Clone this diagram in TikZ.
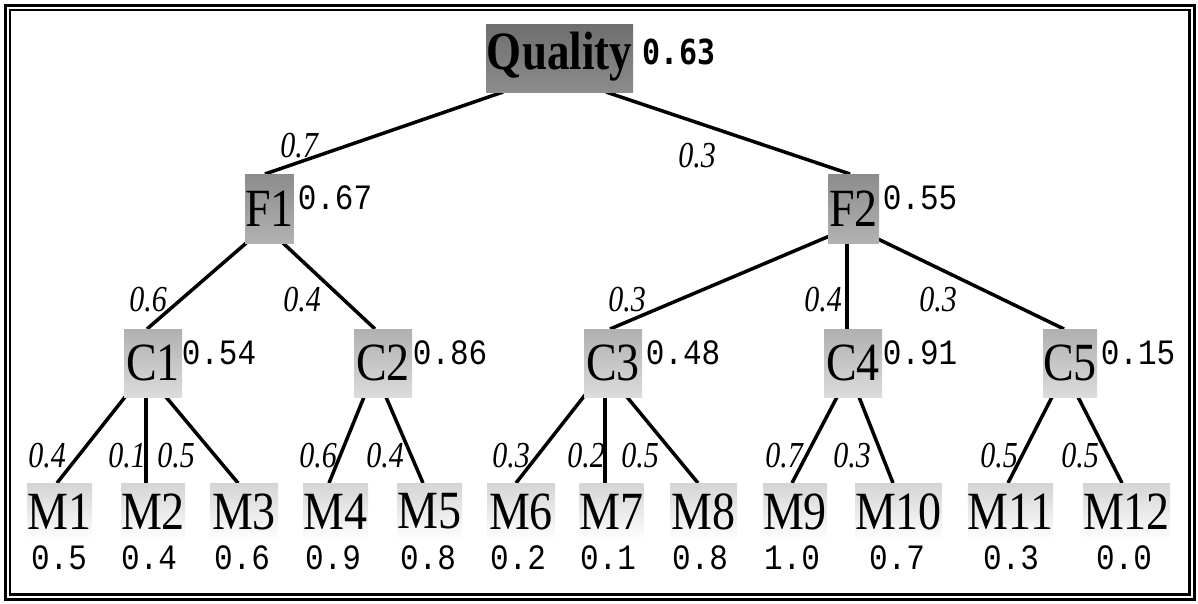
\documentclass[tikz,border=0pt]{standalone}
\usepackage{fontspec}
\usepackage{graphicx}
\setmainfont{Liberation Serif}
\newfontfamily\valfont{Liberation Mono}
\newfontfamily\qvalfont{DejaVu Sans Mono}
\usetikzlibrary{backgrounds}
\definecolor{qtop}{HTML}{6E6E6E}
\definecolor{qbot}{HTML}{8C8C8C}
\definecolor{ftop}{HTML}{8C8C8C}
\definecolor{fbot}{HTML}{B2B2B2}
\definecolor{ctop}{HTML}{B0B0B0}
\definecolor{cbot}{HTML}{DCDCDC}
\definecolor{mtop}{HTML}{D4D4D4}
\definecolor{mbot}{HTML}{FFFFFF}
\newcommand\lab[1]{\scalebox{1}[1.17]{\fontsize{46}{50}\selectfont #1}}
\newcommand\qlab[1]{\scalebox{1}[1.2]{\fontsize{45}{50}\selectfont\bfseries #1}}
\newcommand\wlab[1]{\scalebox{1}[1.22]{\fontsize{30}{32}\selectfont\itshape #1}}
\newcommand\vlab[1]{\scalebox{1}[1.15]{#1}}
\tikzset{
  box/.style={rectangle, inner sep=0pt, outer sep=0pt},
  qbox/.style={box, top color=qtop, bottom color=qbot, minimum width=147, minimum height=68, text height=42, text depth=20},
  fbox/.style={box, top color=ftop, bottom color=fbot, minimum height=69},
  cbox/.style={box, top color=ctop, bottom color=cbot, minimum height=68},
  mbox/.style={box, top color=mtop, bottom color=mbot, minimum height=57},
  edge/.style={line width=3.5pt},
  val/.style={inner sep=0pt, font=\valfont\fontsize{31}{34}\selectfont},
  qval/.style={inner sep=0pt, font=\qvalfont\bfseries\fontsize{30}{34}\selectfont},
  wt/.style={inner sep=0pt},
  frameo/.style={line width=3pt},
  framei/.style={line width=2.5pt}
}
\begin{document}
\begin{tikzpicture}[x=1pt,y=-1pt]
\useasboundingbox (0,0) rectangle (1198,603);
\draw[frameo] (5.5,5.5) rectangle (1194.5,599.5);
\draw[framei] (10,10) rectangle (1189.5,594.5);

% boxes
\node[qbox] (q) at (559.5,58) {\qlab{Quality}};
\node[fbox, minimum width=47] (f1) at (269.5,208.5) {\lab{F1}};
\node[fbox, minimum width=51] (f2) at (853.5,208.5) {\lab{F2}};
\node[cbox, minimum width=58] (c1) at (153,363) {\lab{C1}};
\node[cbox, minimum width=58] (c2) at (383,363) {\lab{C2}};
\node[cbox, minimum width=58] (c3) at (613,363) {\lab{C3}};
\node[cbox, minimum width=58] (c4) at (853,363) {\lab{C4}};
\node[cbox, minimum width=54] (c5) at (1070,363) {\lab{C5}};
\node[mbox, minimum width=65] (m1) at (59.5,511.5) {\lab{M1}};
\node[mbox, minimum width=64] (m2) at (153,511.5) {\lab{M2}};
\node[mbox, minimum width=68] (m3) at (244,511.5) {\lab{M3}};
\node[mbox, minimum width=65] (m4) at (335.5,511.5) {\lab{M4}};
\node[mbox, minimum width=65] (m5) at (429.5,511.5) {\lab{M5}};
\node[mbox, minimum width=68] (m6) at (521,511.5) {\lab{M6}};
\node[mbox, minimum width=63] (m7) at (611.5,511.5) {\lab{M7}};
\node[mbox, minimum width=67] (m8) at (703.5,511.5) {\lab{M8}};
\node[mbox, minimum width=64] (m9) at (795,511.5) {\lab{M9}};
\node[mbox, minimum width=83] (m10) at (898.5,511.5) {\lab{M10}};
\node[mbox, minimum width=85] (m11) at (1010.5,511.5) {\lab{M11}};
\node[mbox, minimum width=87] (m12) at (1126.5,511.5) {\lab{M12}};

% values
\node[qval] (vq) at (679,52) {\vlab{0.63}};
\node[val] (vf1) at (335,198) {\vlab{0.67}};
\node[val] (vf2) at (920,198) {\vlab{0.55}};
\node[val] (vc1) at (219,353) {\vlab{0.54}};
\node[val] (vc2) at (450,353) {\vlab{0.86}};
\node[val] (vc3) at (683,353) {\vlab{0.48}};
\node[val] (vc4) at (920,353) {\vlab{0.91}};
\node[val] (vc5) at (1138,353) {\vlab{0.15}};
\node[val] (vm1) at (59,558) {\vlab{0.5}};
\node[val] (vm2) at (149,558) {\vlab{0.4}};
\node[val] (vm3) at (242,558) {\vlab{0.6}};
\node[val] (vm4) at (333,558) {\vlab{0.9}};
\node[val] (vm5) at (428,558) {\vlab{0.8}};
\node[val] (vm6) at (518,558) {\vlab{0.2}};
\node[val] (vm7) at (608,558) {\vlab{0.1}};
\node[val] (vm8) at (700,558) {\vlab{0.8}};
\node[val] (vm9) at (792,558) {\vlab{1.0}};
\node[val] (vm10) at (897,558) {\vlab{0.7}};
\node[val] (vm11) at (1011,558) {\vlab{0.3}};
\node[val] (vm12) at (1124,558) {\vlab{0.0}};

% weights
\node[wt] (w1) at (299,146) {\wlab{0.7}};
\node[wt] (w2) at (697,156) {\wlab{0.3}};
\node[wt] (w3) at (148,300) {\wlab{0.6}};
\node[wt] (w4) at (302,300) {\wlab{0.4}};
\node[wt] (w5) at (627,300) {\wlab{0.3}};
\node[wt] (w6) at (823,300) {\wlab{0.4}};
\node[wt] (w7) at (938,300) {\wlab{0.3}};
\node[wt] (w8) at (47,456) {\wlab{0.4}};
\node[wt] (w9) at (127,456) {\wlab{0.1}};
\node[wt] (w10) at (176,456) {\wlab{0.5}};
\node[wt] (w11) at (318,456) {\wlab{0.6}};
\node[wt] (w12) at (385,456) {\wlab{0.4}};
\node[wt] (w13) at (511,456) {\wlab{0.3}};
\node[wt] (w14) at (586,456) {\wlab{0.2}};
\node[wt] (w15) at (640,456) {\wlab{0.5}};
\node[wt] (w16) at (784,456) {\wlab{0.7}};
\node[wt] (w17) at (852,456) {\wlab{0.3}};
\node[wt] (w18) at (999,456) {\wlab{0.5}};
\node[wt] (w19) at (1080,456) {\wlab{0.5}};

% edges
\begin{scope}[on background layer]
\draw[edge] ([xshift=-56.5pt]q.south) -- ([xshift=-4.5pt]f1.north);
\draw[edge] ([xshift=46.5pt]q.south) -- ([xshift=-3.5pt]f2.north);
\draw[edge] ([xshift=1pt]f1.south west) -- ([xshift=-6pt]c1.north);
\draw[edge] ([xshift=13.5pt]f1.south) -- ([xshift=-8pt]c2.north);
\draw[edge] ([xshift=4pt,yshift=8pt]f2.south west) -- ([xshift=-3pt]c3.north);
\draw[edge] ([xshift=-6.5pt]f2.south) -- ([xshift=-6pt]c4.north);
\draw[edge] ([xshift=-1pt,yshift=4pt]f2.south east) -- ([xshift=-6pt]c5.north);
\draw[edge] ([xshift=-28pt]c1.south) -- ([xshift=-2.5pt]m1.north);
\draw[edge] ([xshift=-7pt]c1.south) -- ([xshift=-7pt]m2.north);
\draw[edge] ([xshift=13pt]c1.south) -- ([xshift=-6pt]m3.north);
\draw[edge] ([xshift=-19pt]c2.south) -- ([xshift=-6.5pt]m4.north);
\draw[edge] ([xshift=3pt]c2.south) -- ([xshift=-6.5pt]m5.north);
\draw[edge] ([xshift=1pt,yshift=2pt]c3.south west) -- ([xshift=-5pt]m6.north);
\draw[edge] ([xshift=-8pt]c3.south) -- ([xshift=-6.5pt]m7.north);
\draw[edge] ([xshift=14pt]c3.south) -- ([xshift=-5.5pt]m8.north);
\draw[edge] ([xshift=-16pt]c4.south) -- ([xshift=-3pt]m9.north);
\draw[edge] ([xshift=6pt]c4.south) -- ([xshift=-5.5pt]m10.north);
\draw[edge] ([xshift=-18pt]c5.south) -- ([xshift=-2.5pt]m11.north);
\draw[edge] ([xshift=8pt]c5.south) -- ([xshift=-4.5pt]m12.north);
\end{scope}
\end{tikzpicture}
\end{document}
